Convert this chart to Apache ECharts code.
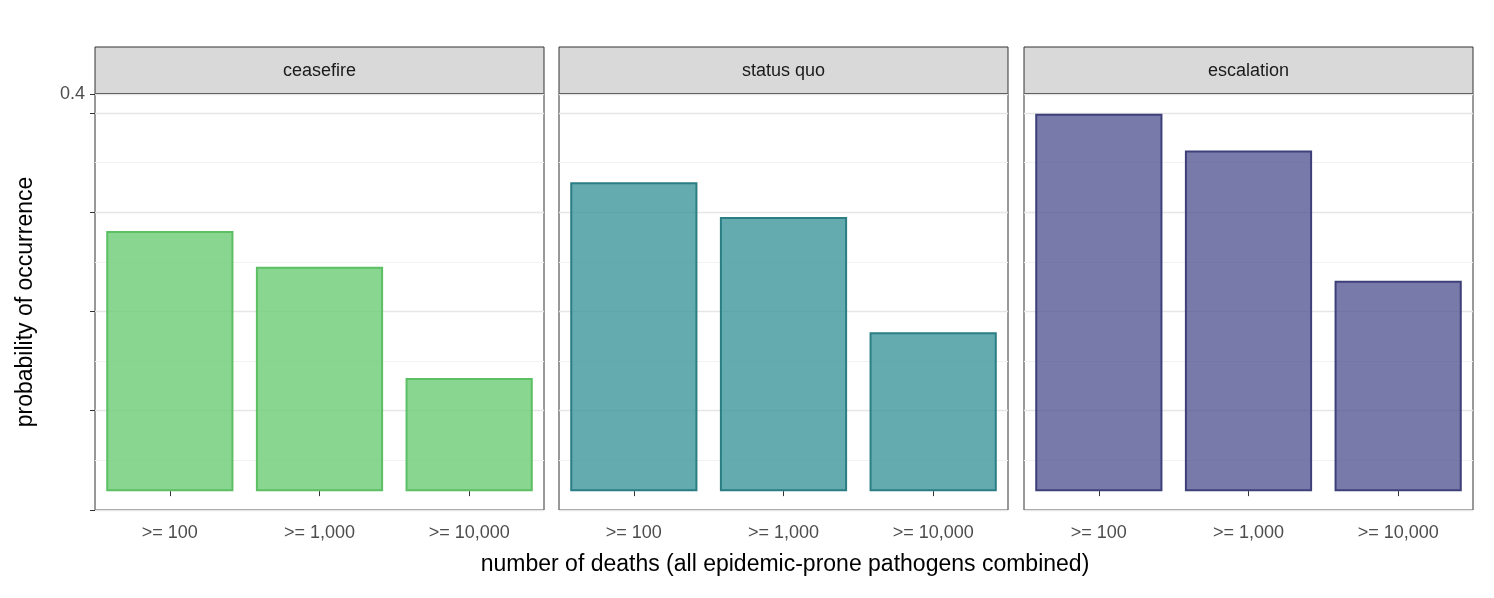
<!DOCTYPE html>
<html><head><meta charset="utf-8">
<script src="https://cdn.jsdelivr.net/npm/echarts@6/dist/echarts.min.js"></script>
<style>body{margin:0;background:#fff}#chart{width:1494px;height:598px}</style>
</head><body><div id="chart"></div>
<script>
const categories = ['>= 100', '>= 1,000', '>= 10,000']
const panels = ['ceasefire', 'status quo', 'escalation']
const ceasefire = [0.262, 0.226, 0.114]
const statusQuo = [0.311, 0.276, 0.160]
const escalation = [0.380, 0.343, 0.212]
const yTicks = [0, 0.1, 0.2, 0.3, 0.4]

const values = [ceasefire, statusQuo, escalation]
const fills = ['rgba(110,205,118,0.82)', 'rgba(60,150,155,0.8)', 'rgba(80,82,145,0.77)']
const borders = ['#5cbf64', '#2a7e84', '#3e407a']
const lefts = [95, 559, 1024]
const W = 449, TOP = 94, H = 416

const chart = echarts.init(document.getElementById('chart'))
const grid = [], xAxis = [], yAxis = [], series = [], graphic = []
panels.forEach((p, i) => {
  grid.push({ left: lefts[i], top: TOP, width: W, height: H, show: true, borderColor: '#333', borderWidth: 1, backgroundColor: '#fff' })
  xAxis.push({
    type: 'category', gridIndex: i, data: categories,
    axisLine: { show: false }, axisTick: { show: true, alignWithLabel: true, length: 5, lineStyle: { color: '#333' } },
    axisLabel: { color: '#4d4d4d', fontSize: 18, margin: 14, fontFamily: 'Liberation Sans' }
  })
  yAxis.push({
    type: 'value', gridIndex: i, min: -0.019, max: 0.4, interval: 0.1,
    axisLine: { show: false }, axisTick: { show: i === 0, length: 5, lineStyle: { color: '#333' } },
    axisLabel: { show: i === 0, color: '#4d4d4d', fontSize: 18, margin: 10, fontFamily: 'Liberation Sans',
      formatter: v => yTicks.some(t => Math.abs(t - v) < 1e-9) ? v.toFixed(1) : '' },
    splitLine: { lineStyle: { color: '#e6e6e6', width: 1.3 } },
    minorTick: { show: false, splitNumber: 2 },
    minorSplitLine: { show: true, lineStyle: { color: '#f2f2f2', width: 1 } },
    name: i === 0 ? 'probability of occurrence' : '', nameLocation: 'middle', nameGap: 58,
    nameTextStyle: { fontSize: 23, color: '#000', fontFamily: 'Liberation Sans' }
  })
  series.push({
    type: 'bar', xAxisIndex: i, yAxisIndex: i, data: values[i], barCategoryGap: '15%',
    itemStyle: { color: fills[i], borderColor: borders[i], borderWidth: 2 }
  })
  graphic.push({ type: 'rect', shape: { x: lefts[i], y: 47, width: W, height: TOP - 47 },
    style: { fill: '#d9d9d9', stroke: '#333', lineWidth: 1 } })
  graphic.push({ type: 'line', shape: { x1: lefts[i], y1: TOP, x2: lefts[i] + W, y2: TOP },
    style: { stroke: '#333', lineWidth: 2 } })
  graphic.push({ type: 'text', x: lefts[i] + W / 2, y: 71,
    style: { text: p, fontSize: 18, fill: '#1a1a1a', align: 'center', verticalAlign: 'middle', fontFamily: 'Liberation Sans' } })
})
graphic.push({ type: 'text', x: 785, y: 565,
  style: { text: 'number of deaths (all epidemic-prone pathogens combined)', fontSize: 23, fill: '#000',
    align: 'center', verticalAlign: 'middle', fontFamily: 'Liberation Sans' } })

chart.setOption({ animation: false, grid, xAxis, yAxis, series, graphic })
</script></body></html>
